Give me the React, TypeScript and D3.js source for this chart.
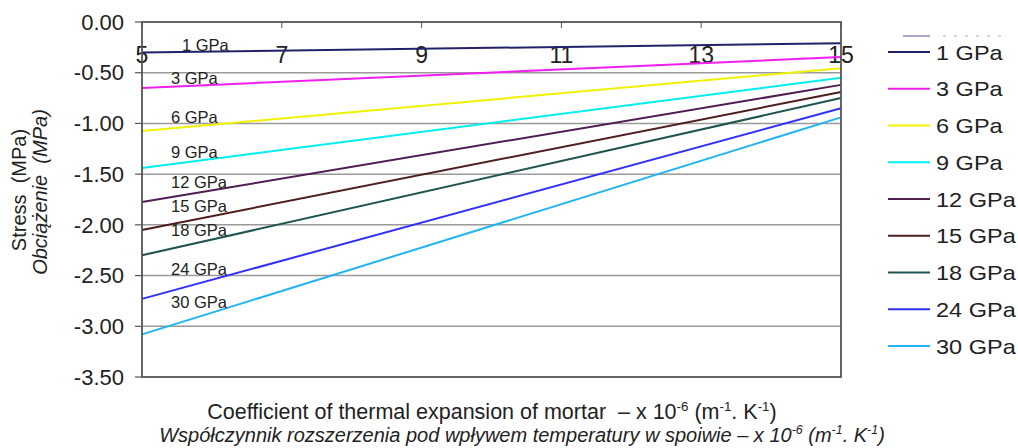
import React from 'react';
import * as d3 from 'd3';

// series: stress at x=5 and at x=15
const moduli = ['1 GPa', '3 GPa', '6 GPa', '9 GPa', '12 GPa', '15 GPa', '18 GPa', '24 GPa', '30 GPa'];
const xValues = [5, 15];
const startStress = [-0.30, -0.65, -1.075, -1.44, -1.775, -2.05, -2.30, -2.73, -3.08];
const endStress = [-0.21, -0.345, -0.455, -0.55, -0.62, -0.69, -0.75, -0.85, -0.94];
const labelStress = [-0.23, -0.55, -0.94, -1.28, -1.58, -1.82, -2.05, -2.44, -2.76];
const colors = ['#22226a', '#f21ef0', '#f2f200', '#00f0f0', '#4e1f50', '#4e1e1e', '#1e5550', '#3030f8', '#22b4f4'];

const yTicks = [0, -0.5, -1, -1.5, -2, -2.5, -3, -3.5];
const xTicks = [5, 7, 9, 11, 13, 15];

const font = "'Liberation Sans', Arial, sans-serif";

// unit part of the x title: " – x 10^-6 (m^-1. K^-1)"
const UnitSuffix = ({ lead }: { lead: string }) => (
  <>
    {lead}
    <tspan fontSize="0.62em" dy={-8}>-6</tspan>
    <tspan dy={8}> (m</tspan>
    <tspan fontSize="0.62em" dy={-8}>-1</tspan>
    <tspan dy={8}>. K</tspan>
    <tspan fontSize="0.62em" dy={-8}>-1</tspan>
    <tspan dy={8}>)</tspan>
  </>
);

const App = () => {
  const width = 1018;
  const height = 448;
  const plot = { left: 142, right: 841, top: 22, bottom: 377 };

  const x = d3.scaleLinear().domain([5, 15]).range([plot.left, plot.right]);
  const y = d3.scaleLinear().domain([0, -3.5]).range([plot.top, plot.bottom]);

  const line = d3
    .line<number>()
    .x((d, i) => x(xValues[i]))
    .y(d => y(d));

  const legendY = d3.scalePoint<string>().domain(moduli).range([52, 346]);

  return (
    <svg
      width={width}
      height={height}
      style={{ position: 'absolute', left: 0, top: 0, background: '#fff' }}
      fontFamily={font}
    >
      {/* grid lines */}
      {yTicks.slice(1, -1).map(t => (
        <line key={t} x1={plot.left} x2={plot.right} y1={y(t)} y2={y(t)} stroke="#9a9a9a" strokeWidth={1.5} />
      ))}
      {/* y tick marks + labels */}
      {yTicks.map(t => (
        <g key={'yt' + t}>
          <line x1={plot.left - 7} x2={plot.left} y1={y(t)} y2={y(t)} stroke="#555" strokeWidth={1.2} />
          <text x={124} y={y(t)} dy="0.35em" textAnchor="end" fontSize={22} fill="#222">
            {d3.format('.2f')(t).replace('−', '-')}
          </text>
        </g>
      ))}
      {/* x ticks at top */}
      {xTicks.map(t => (
        <g key={'xt' + t}>
          <line x1={x(t)} x2={x(t)} y1={plot.top} y2={plot.top + 6} stroke="#555" strokeWidth={1} />
          <text x={x(t)} y={55} dy="0.35em" textAnchor="middle" fontSize={23} fill="#222">
            {t}
          </text>
        </g>
      ))}
      {/* series */}
      {moduli.map((m, i) => (
        <path
          key={m}
          d={line([startStress[i], endStress[i]]) || ''}
          fill="none"
          stroke={colors[i]}
          strokeWidth={2}
        />
      ))}
      {/* inline labels */}
      {moduli.map((m, i) => (
        <text
          key={'lab' + m}
          x={i === 0 ? 182 : 171}
          y={y(labelStress[i])}
          dy="0.35em"
          fontSize={16.5}
          fill="#222"
        >
          {m}
        </text>
      ))}
      {/* plot border */}
      <rect
        x={plot.left}
        y={plot.top}
        width={plot.right - plot.left}
        height={plot.bottom - plot.top}
        fill="none"
        stroke="#555"
        strokeWidth={1.8}
      />
      {/* legend (top entry cut off in the original) */}
      <line x1={903} x2={930} y1={36} y2={36} stroke="#8888bb" strokeWidth={1.5} />
      <line x1={943} x2={1003} y1={36} y2={36} stroke="#c8c8d8" strokeWidth={1.5} strokeDasharray="3 8" />
      {moduli.map((m, i) => (
        <g key={'leg' + m} transform={`translate(888,${legendY(m)})`}>
          <line x1={0} x2={42} y1={0} y2={0} stroke={colors[i]} strokeWidth={2} />
          <text x={48} y={0} dy="0.36em" fontSize={21} fill="#222" transform="scale(1.12,1)" style={{ transformOrigin: '48px 0px' }}>
            {m}
          </text>
        </g>
      ))}
      {/* y axis titles */}
      <text transform="translate(26,190) rotate(-90)" textAnchor="middle" fontSize={20} fill="#222">
        Stress{'\u00a0'} (MPa)
      </text>
      <text transform="translate(47,192) rotate(-90)" textAnchor="middle" fontSize={20} fontStyle="italic" fill="#222">
        Obciążenie{'\u00a0'} (MPa)
      </text>
      {/* x axis titles */}
      <text x={492} y={419} textAnchor="middle" fontSize={21.5} fill="#222">
        <UnitSuffix lead={'Coefficient of thermal expansion of mortar \u00a0\u2013 x 10'} />
      </text>
      <text x={522} y={442} textAnchor="middle" fontSize={20} fontStyle="italic" fill="#222">
        <UnitSuffix lead={'Współczynnik rozszerzenia pod wpływem temperatury w spoiwie \u2013 x 10'} />
      </text>
    </svg>
  );
};

export default App;
